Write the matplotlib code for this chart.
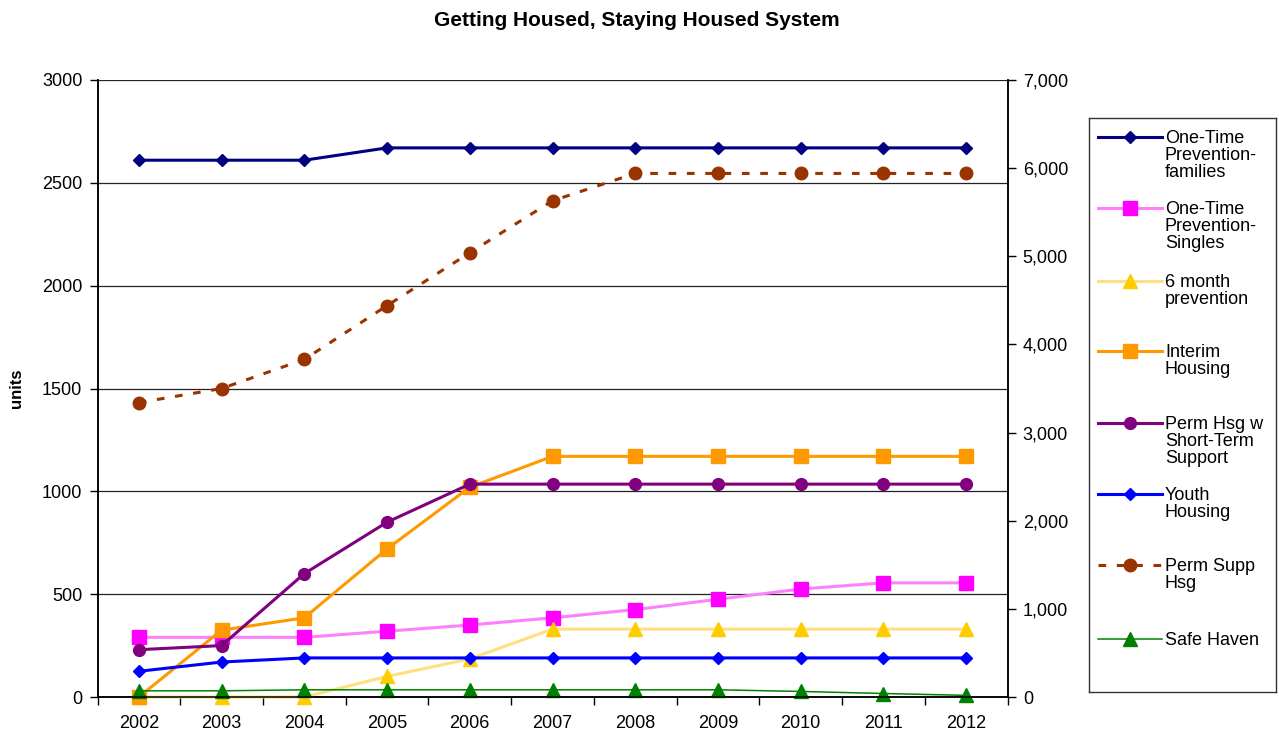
import matplotlib
matplotlib.use('Agg')
import matplotlib.pyplot as plt
from matplotlib.ticker import FuncFormatter, MultipleLocator, FixedLocator

plt.rcParams['font.family'] = ['Liberation Sans', 'DejaVu Sans']

# data
years = ['2002', '2003', '2004', '2005', '2006', '2007', '2008', '2009', '2010', '2011', '2012']
families = [2610, 2610, 2610, 2670, 2670, 2670, 2670, 2670, 2670, 2670, 2670]
singles = [290, 290, 290, 320, 350, 385, 425, 475, 525, 555, 555]
six_month = [0, 0, 0, 100, 185, 330, 330, 330, 330, 330, 330]
interim = [0, 325, 385, 720, 1020, 1170, 1170, 1170, 1170, 1170, 1170]
perm_short = [230, 250, 600, 850, 1035, 1035, 1035, 1035, 1035, 1035, 1035]
youth = [125, 170, 190, 190, 190, 190, 190, 190, 190, 190, 190]
safe_haven = [30, 30, 35, 35, 35, 35, 35, 35, 27, 17, 8]
perm_supp = [3340, 3500, 3830, 4440, 5040, 5630, 5940, 5940, 5940, 5940, 5940]  # right axis

labels = ['One-Time\nPrevention-\nfamilies', 'One-Time\nPrevention-\nSingles', '6 month\nprevention',
          'Interim\nHousing', 'Perm Hsg w\nShort-Term\nSupport', 'Youth\nHousing', 'Perm Supp\nHsg', 'Safe Haven']

# styles (line colour, marker, marker colour, size, width)
styles = [
    dict(color='#000080', marker='D', mfc='#000080', mec='#000080', ms=6.5, lw=2.2),
    dict(color='#FF80FF', marker='s', mfc='#FF00FF', mec='#FF00FF', ms=9.5, lw=2.2),
    dict(color='#FFE080', marker='^', mfc='#FFCC00', mec='#FFCC00', ms=9.5, lw=2.2),
    dict(color='#FF9900', marker='s', mfc='#FF9900', mec='#FF9900', ms=9.5, lw=2.2),
    dict(color='#800080', marker='o', mfc='#800080', mec='#800080', ms=8.5, lw=2.2),
    dict(color='#0000FF', marker='D', mfc='#0000FF', mec='#0000FF', ms=6.5, lw=2.2),
    dict(color='#993300', marker='o', mfc='#993300', mec='#993300', ms=9, lw=2.2, dashes=(2.5, 3.5)),
    dict(color='#008000', marker='^', mfc='#008000', mec='#008000', ms=9.5, lw=1.1),
]

fig = plt.figure(figsize=(12.79, 7.30), dpi=100)
ax = fig.add_axes([97.5 / 1279, 33 / 730, 910 / 1279, 617 / 730])
ax2 = ax.twinx()

x = list(range(len(years)))
left_series = [families, singles, six_month, interim, perm_short, youth, safe_haven]
left_styles = [styles[0], styles[1], styles[2], styles[3], styles[4], styles[5], styles[7]]
for vals, st in zip(left_series, left_styles):
    ax.plot(x, vals, clip_on=False, zorder=3, **st)
ax2.plot(x, perm_supp, clip_on=False, zorder=3, **styles[6])

# axes
ax.set_xlim(-0.5, len(years) - 0.5)
ax.set_ylim(0, 3000)
ax2.set_ylim(0, 7000)
ax.yaxis.set_major_locator(MultipleLocator(500))
ax2.yaxis.set_major_locator(MultipleLocator(1000))
ax2.yaxis.set_major_formatter(FuncFormatter(lambda v, p: f'{int(v):,}'))
ax.set_xticks(x)
ax.set_xticklabels(years)
ax.xaxis.set_minor_locator(FixedLocator([i - 0.5 for i in range(len(years) + 1)]))
ax.tick_params(axis='x', which='major', length=0, pad=13, labelsize=13)
ax.tick_params(axis='x', which='minor', length=6, width=1, direction='out')
ax.tick_params(axis='y', length=6, width=1, pad=5, labelsize=13)
ax2.tick_params(axis='y', length=6, width=1, pad=5, labelsize=13)
ax.grid(axis='y', color='#222222', lw=0.9)
ax.set_axisbelow(True)
for a in (ax, ax2):
    a.spines['top'].set_visible(False)
    for s in ('left', 'right', 'bottom'):
        a.spines[s].set_linewidth(1.1)

fig.text(637 / 1279, 1 - 20 / 730, 'Getting Housed, Staying Housed System', ha='center', va='center',
         fontsize=15, fontweight='bold')
fig.text(17 / 1279, 1 - 388 / 730, 'units', rotation=90, ha='center', va='center', fontsize=12, fontweight='bold')

# legend drawn in its own box, entries spaced like the original
leg = fig.add_axes([1089 / 1279, 38 / 730, 187 / 1279, 574 / 730])
leg.set_xlim(1089, 1276)
leg.set_ylim(692, 118)
leg.set_xticks([])
leg.set_yticks([])
for s in leg.spines.values():
    s.set_color('#333333')
    s.set_linewidth(1)
entry_y = [137, 208, 281, 351, 423, 494, 565, 639]
for yy, lab, st in zip(entry_y, labels, styles):
    line_st = {k: v for k, v in st.items() if k not in ('marker', 'mfc', 'mec', 'ms')}
    leg.plot([1098, 1162], [yy, yy], **line_st)
    leg.plot([1130], [yy], linestyle='none', marker=st['marker'], mfc=st['mfc'], mec=st['mec'], ms=st['ms'])
    leg.text(1165, yy - 7, lab, ha='left', va='top', fontsize=13, linespacing=1.0)

fig.savefig('out.png', dpi=100)
